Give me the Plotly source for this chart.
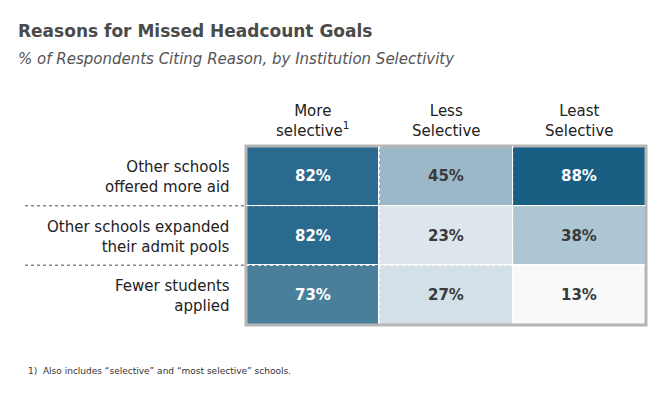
import plotly.graph_objects as go

columns = ["More<br>selective<sup>1</sup>", "Less<br>Selective", "Least<br>Selective"]
reasons = ["Other schools<br>offered more aid", "Other schools expanded<br>their admit pools", "Fewer students<br>applied"]
values = [
    [82, 45, 88],
    [82, 23, 38],
    [73, 27, 13],
]

W, H = 672, 402
OFF = 8  # page margin offset


def px(x):
    return (x - OFF) / W


def py(y):
    return 1 - (y - OFF) / H


x0, x1 = px(246), px(646)
y_top, y_bot = py(146), py(325)

scale = [
    [0.0, "#ffffff"], [0.13, "#f7f9fa"], [0.23, "#dce6ec"], [0.27, "#d3e0e8"],
    [0.38, "#adc6d3"], [0.45, "#9cb8c8"], [0.73, "#4a7f9c"], [0.82, "#2a6a8e"],
    [0.88, "#185f83"], [1.0, "#0f5478"],
]

fig = go.Figure(go.Heatmap(
    z=[[v / 100 for v in row] for row in values],
    x=[0, 1, 2], y=[0, 1, 2],
    colorscale=scale, zmin=0, zmax=1, showscale=False,
    xgap=1, ygap=1, hoverinfo="skip",
))

ann = []
for r, row in enumerate(values):
    for c, v in enumerate(row):
        ann.append(dict(x=c, y=r, xref="x", yref="y", text=f"<b>{v}%</b>", showarrow=False,
                        font=dict(size=15, color="white" if v >= 60 else "#3a3a3a")))
for c, name in enumerate(columns):
    ann.append(dict(x=c, y=y_top + 0.01, xref="x", yref="paper", yanchor="bottom", text=name,
                    showarrow=False, font=dict(size=15, color="#222")))
for r, name in enumerate(reasons):
    ann.append(dict(x=px(232), y=r, xref="paper", yref="y", xanchor="right", align="right",
                    text=name, showarrow=False, font=dict(size=15, color="#222"),
                    yshift=-1))
ann += [
    dict(x=px(16), y=py(19), xref="paper", yref="paper", xanchor="left", text="<b>Reasons for Missed Headcount Goals</b>",
         showarrow=False, font=dict(size=17, color="#4a4a4a")),
    dict(x=px(16), y=py(48), xref="paper", yref="paper", xanchor="left", text="<i>% of Respondents Citing Reason, by Institution Selectivity</i>",
         showarrow=False, font=dict(size=15, color="#555")),
    dict(x=px(26), y=py(378), xref="paper", yref="paper", xanchor="left",
         text="1)  Also includes \u201cselective\u201d and \u201cmost selective\u201d schools.",
         showarrow=False, font=dict(size=9, color="#333")),
]

shapes = [dict(type="rect", xref="paper", yref="paper", x0=x0, x1=x1, y0=y_bot, y1=y_top,
               line=dict(color="#b5b5b5", width=3))]
for yb in (0.5, 1.5):
    shapes.append(dict(type="line", xref="paper", yref="y", x0=px(25), x1=x0, y0=yb, y1=yb,
                       line=dict(color="#888", width=1.5, dash="dot")))
    shapes.append(dict(type="line", xref="x", yref="y", x0=-0.5, x1=2.5, y0=yb, y1=yb,
                       line=dict(color="#ffffff", width=1, dash="dot")))
for xb in (0.5, 1.5):
    shapes.append(dict(type="line", xref="x", yref="y", x0=xb, x1=xb, y0=-0.5, y1=2.5,
                       line=dict(color="#ffffff", width=1, dash="dot")))

fig.update_layout(
    width=W, height=H, margin=dict(l=0, r=0, t=0, b=0),
    paper_bgcolor="white", plot_bgcolor="white",
    font=dict(family="Verdana, DejaVu Sans, sans-serif"),
    xaxis=dict(domain=[x0, x1], range=[-0.5, 2.5], visible=False),
    yaxis=dict(domain=[y_bot, y_top], range=[2.5, -0.5], visible=False),
    annotations=ann, shapes=shapes,
)

fig.write_html("out.html")
